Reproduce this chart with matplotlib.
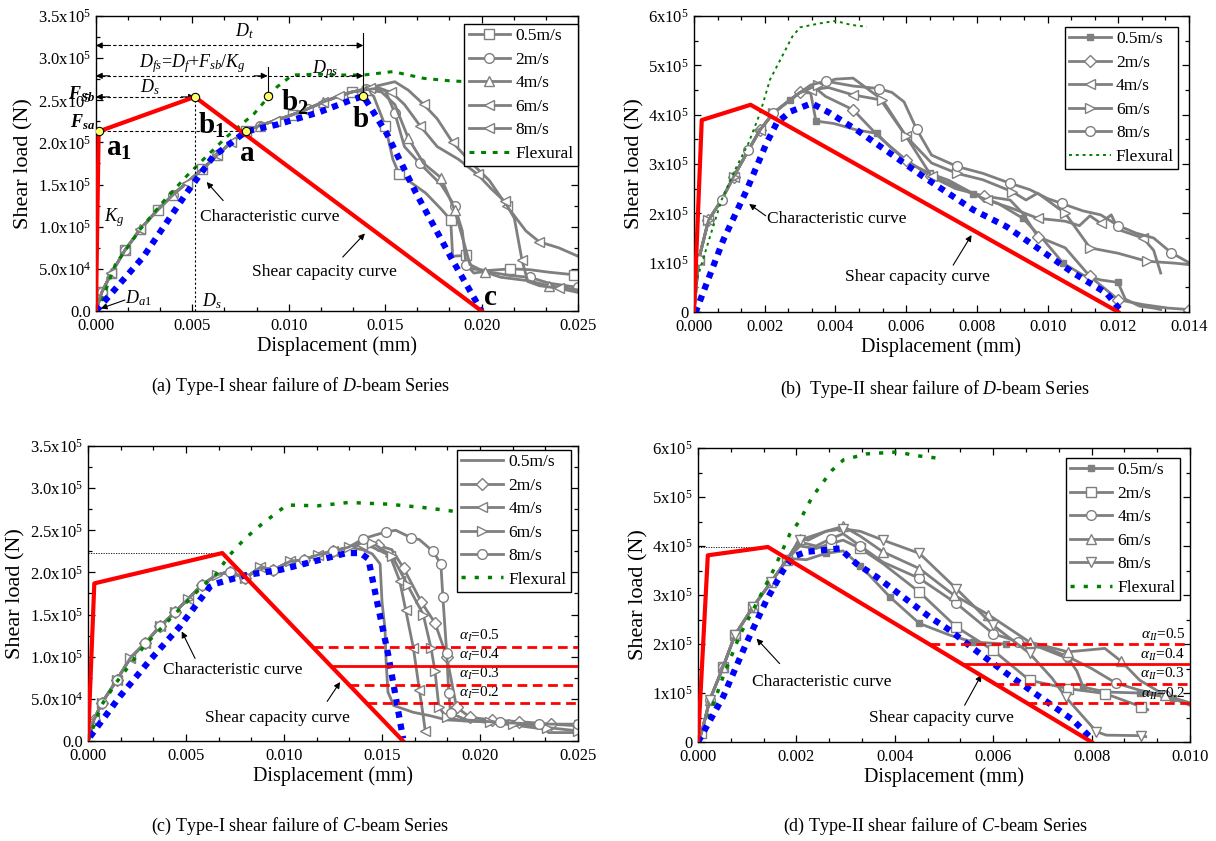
import numpy as np
import matplotlib
matplotlib.use('Agg')
import matplotlib.pyplot as plt
from matplotlib.ticker import AutoMinorLocator

plt.rcParams['font.family'] = ['Liberation Serif', 'DejaVu Serif']
plt.rcParams['mathtext.fontset'] = 'custom'
plt.rcParams['mathtext.rm'] = 'Liberation Serif'
plt.rcParams['mathtext.it'] = 'Liberation Serif:italic'
plt.rcParams['mathtext.bf'] = 'Liberation Serif:bold'
plt.rcParams['mathtext.bfit'] = 'Liberation Serif:bold:italic'

# displacement in 1e-3 mm, load in 1e5 N
XS = 1e-3
YS = 1e5

speeds = ['0.5m/s', '2m/s', '4m/s', '6m/s', '8m/s']

# ---------------- (a) Type-I, D-beam ----------------
rise_a_x = [0, 0.3, 0.8, 1.5, 2.3, 3.2, 4.0, 4.7, 5.5, 6.3, 7.0, 7.8, 8.5, 9.3, 10.2, 11.0, 11.8, 12.6, 13.3]
rise_a_y = [0, 0.22, 0.45, 0.72, 0.97, 1.20, 1.38, 1.52, 1.68, 1.85, 2.00, 2.14, 2.20, 2.26, 2.33, 2.40, 2.48, 2.55, 2.60]
tail_a_x = [
    [13.9, 14.4, 15.0, 15.4, 15.73, 16.3, 17.1, 17.9, 18.4, 18.5, 19.2, 19.5, 20.3, 21.5, 22.5, 23.5, 24.8, 25.0],
    [14.0, 14.5, 15.0, 15.5, 16.0, 16.8, 17.9, 18.6, 19.0, 19.2, 19.6, 20.2, 21.5, 22.5, 23.5, 25.0],
    [14.0, 14.8, 15.5, 16.2, 17.0, 17.9, 18.6, 19.1, 19.4, 20.2, 21.0, 22.4, 23.5, 25.0],
    [14.2, 15.5, 16.2, 17.0, 17.7, 18.5, 19.5, 20.4, 21.3, 22.3, 23.0, 24.0, 25.0],
    [14.5, 15.3, 16.0, 16.8, 17.7, 18.8, 19.8, 20.5, 21.2, 21.7, 22.1, 22.4, 23.0, 24.0, 25.0],
]
tail_a_y = [
    [2.62, 2.55, 2.20, 1.80, 1.62, 1.53, 1.40, 1.21, 1.08, 0.65, 0.66, 0.50, 0.48, 0.50, 0.49, 0.46, 0.43, 0.42],
    [2.63, 2.66, 2.62, 2.35, 1.95, 1.75, 1.50, 1.25, 0.95, 0.55, 0.45, 0.47, 0.42, 0.40, 0.33, 0.28],
    [2.62, 2.60, 2.45, 2.05, 1.75, 1.58, 1.20, 0.80, 0.55, 0.46, 0.40, 0.36, 0.30, 0.25],
    [2.65, 2.72, 2.62, 2.45, 2.28, 2.00, 1.75, 1.55, 1.25, 0.95, 0.82, 0.75, 0.65],
    [2.64, 2.60, 2.45, 2.20, 1.95, 1.80, 1.62, 1.45, 1.30, 1.10, 0.60, 0.35, 0.30, 0.27, 0.22],
]
marks_a = ['s', 'o', '^', '<', '<']
flex_a_x = [0, 0.2, 1.0, 2.3, 3.5, 4.7, 5.8, 6.8, 8.2, 9.4, 10.2, 11.5, 12.5, 13.9, 15.4, 17.0, 18.4, 19.3]
flex_a_y = [0, 0.06, 0.55, 0.97, 1.30, 1.60, 1.85, 2.07, 2.34, 2.66, 2.80, 2.81, 2.80, 2.80, 2.84, 2.76, 2.73, 2.72]
char_a_x = [0, 2.45, 4.7, 6.07, 7.78, 9.37, 11.6, 13.2, 13.87, 15.07, 16.6, 18.4, 20.0]
char_a_y = [0, 0.64, 1.40, 1.83, 2.13, 2.21, 2.36, 2.50, 2.55, 2.11, 1.40, 0.64, 0]
cap_a_x = [0, 0.14, 5.13, 20.0]
cap_a_y = [0, 2.13, 2.54, 0]
key_a_x = [0.14, 5.13, 7.78, 8.9, 13.87]
key_a_y = [2.13, 2.54, 2.13, 2.55, 2.55]

# ---------------- (b) Type-II, D-beam ----------------
rise_b_x = [0, 0.13, 0.41, 0.78, 1.12, 1.54, 1.87, 2.24, 2.72, 3.0]
rise_b_y = [0, 1.05, 1.86, 2.27, 2.74, 3.28, 3.69, 4.03, 4.30, 4.45]
tail_b_x = [
    [3.3, 3.45, 3.96, 4.6, 5.17, 5.54, 6.1, 6.67, 7.2, 7.9, 8.6, 9.3, 9.9, 10.44, 11.0, 11.5, 11.99, 12.2, 12.6, 13.0, 13.2],
    [3.5, 3.72, 4.5, 5.22, 6.0, 6.7, 7.4, 8.2, 8.94, 9.3, 9.72, 10.5, 11.2, 12.0, 12.7, 13.4, 14.0],
    [3.3, 3.8, 4.5, 5.28, 6.0, 6.72, 7.44, 8.28, 9.0, 9.72, 10.5, 10.9, 11.2, 11.5, 11.8, 12.0, 12.7, 13.0, 13.2],
    [3.5, 4.0, 4.5, 5.33, 6.0, 6.72, 7.44, 8.17, 9.0, 9.39, 9.72, 10.5, 10.8, 11.2, 12.0, 12.8, 13.6, 14.0],
    [3.3, 3.72, 4.5, 5.22, 5.6, 5.94, 6.3, 6.72, 7.44, 8.17, 8.94, 9.5, 10.0, 10.4, 11.0, 11.5, 12.0, 12.5, 13.0, 13.5, 14.0],
]
tail_b_y = [
    [4.44, 3.87, 3.82, 3.69, 3.62, 3.35, 3.01, 2.81, 2.67, 2.40, 2.20, 1.90, 1.45, 0.99, 0.75, 0.65, 0.60, 0.26, 0.12, 0.08, 0.05],
    [4.50, 4.37, 4.10, 3.56, 3.08, 2.75, 2.50, 2.35, 2.27, 2.00, 1.53, 1.30, 0.72, 0.25, 0.15, 0.08, 0.05],
    [4.50, 4.55, 4.40, 4.30, 3.56, 2.75, 2.54, 2.27, 2.10, 1.90, 1.84, 1.75, 1.95, 1.80, 1.97, 1.67, 1.50, 1.25, 0.79],
    [4.60, 4.72, 4.74, 4.30, 3.56, 3.02, 2.81, 2.68, 2.44, 2.27, 2.41, 2.00, 1.70, 1.30, 1.19, 1.03, 0.99, 0.96],
    [4.60, 4.68, 4.58, 4.53, 4.45, 4.26, 3.70, 3.18, 2.95, 2.81, 2.61, 2.48, 2.30, 2.20, 2.05, 1.97, 1.75, 1.60, 1.50, 1.20, 1.00],
]
marks_b = ['s', 'D', '<', '>', 'o']
flex_b_x = [0, 0.08, 0.45, 0.78, 1.16, 1.54, 1.87, 2.15, 2.44, 2.78, 3.0, 3.56, 4.0, 4.44, 4.89]
flex_b_y = [0, 0.65, 1.52, 2.27, 2.88, 3.42, 4.03, 4.71, 5.11, 5.58, 5.77, 5.85, 5.90, 5.82, 5.78]
char_b_x = [0, 0.075, 0.83, 1.49, 2.05, 2.34, 2.72, 3.33, 3.85, 4.6, 5.54, 6.49, 7.9, 8.84, 9.79, 10.73, 11.67, 12.1]
char_b_y = [0, 0.05, 1.46, 2.47, 3.42, 3.83, 4.06, 4.23, 4.03, 3.69, 3.22, 2.74, 2.07, 1.73, 1.26, 0.79, 0.38, 0]
cap_b_x = [0, 0.22, 1.60, 12.0]
cap_b_y = [0, 3.89, 4.20, 0]

# ---------------- (c) Type-I, C-beam ----------------
rise_c_x = [0, 0.3, 0.7, 1.46, 2.14, 2.91, 3.67, 4.44, 5.12, 5.8, 6.56, 7.24, 8.0, 8.78, 9.46, 10.3, 11.0, 11.75, 12.5, 13.3]
rise_c_y = [0, 0.25, 0.45, 0.72, 0.98, 1.16, 1.36, 1.53, 1.69, 1.85, 1.97, 2.01, 1.93, 2.06, 2.03, 2.13, 2.15, 2.21, 2.25, 2.30]
tail_c_x = [
    [14.0, 14.5, 14.9, 15.0, 15.15, 15.2, 15.3, 15.6, 16.6, 17.45, 18.3, 20.0, 21.7, 23.3, 23.5, 25.0],
    [14.0, 14.8, 15.5, 16.1, 17.0, 17.7, 18.3, 18.8, 19.5, 20.6, 22.0, 23.6, 25.0],
    [14.0, 14.5, 15.4, 15.9, 16.2, 16.6, 16.9, 17.1, 17.2],
    [14.0, 14.5, 15.5, 16.3, 17.1, 17.5, 17.7, 17.9, 18.3, 19.1, 20.5, 21.7, 23.4, 25.0],
    [14.05, 14.6, 15.2, 15.7, 16.5, 16.9, 17.6, 18.0, 18.1, 18.3, 18.4, 18.5, 19.3, 21.0, 23.0, 25.0],
]
tail_c_y = [
    [2.27, 2.22, 2.10, 1.64, 1.33, 0.97, 0.58, 0.42, 0.34, 0.30, 0.25, 0.23, 0.19, 0.14, 0.10, 0.10],
    [2.35, 2.32, 2.27, 2.05, 1.65, 1.40, 1.00, 0.40, 0.28, 0.25, 0.23, 0.20, 0.18],
    [2.33, 2.30, 2.20, 1.90, 1.56, 1.10, 0.61, 0.30, 0.12],
    [2.36, 2.35, 2.20, 1.85, 1.50, 1.10, 0.83, 0.40, 0.28, 0.24, 0.23, 0.20, 0.16, 0.12],
    [2.40, 2.44, 2.48, 2.50, 2.41, 2.39, 2.25, 2.10, 1.71, 1.04, 0.57, 0.33, 0.25, 0.22, 0.20, 0.20],
]
marks_c = [None, 'D', '<', '>', 'o']
flex_c_x = [0, 0.7, 1.46, 2.91, 4.44, 5.8, 6.5, 7.2, 8.0, 8.9, 10.14, 11.7, 13.3, 15.3, 17.1, 18.85]
flex_c_y = [0, 0.43, 0.70, 1.14, 1.51, 1.83, 1.97, 2.20, 2.40, 2.58, 2.80, 2.79, 2.83, 2.81, 2.77, 2.72]
char_c_x = [0.1, 1.63, 3.16, 4.69, 6.22, 6.56, 8.1, 9.8, 11.5, 13.2, 13.9, 14.3, 14.8, 15.3, 15.7, 16.07]
char_c_y = [0.05, 0.53, 0.96, 1.36, 1.83, 1.87, 1.97, 2.03, 2.13, 2.23, 2.23, 2.16, 1.59, 1.04, 0.52, 0.03]
cap_c_x = [0, 0.32, 6.85, 16.07]
cap_c_y = [0, 1.87, 2.23, 0]

# ---------------- (d) Type-II, C-beam ----------------
rise_d_x = [0, 0.07, 0.24, 0.51, 0.75, 1.12, 1.49, 1.80]
rise_d_y = [0, 0.18, 0.86, 1.53, 2.18, 2.76, 3.27, 3.71]
tail_d_x = [
    [1.93, 2.2, 2.6, 2.95, 3.3, 3.9, 4.5, 5.12, 5.59, 6.27, 6.95, 7.53, 7.7, 7.83, 8.3, 8.98, 9.66, 10.0],
    [2.07, 2.4, 2.7, 2.95, 3.3, 3.76, 4.5, 5.25, 6.0, 6.74, 7.52, 8.27, 9.01, 9.14],
    [2.07, 2.4, 2.7, 2.95, 3.3, 3.76, 4.5, 5.25, 6.0, 6.5, 7.0, 7.5, 8.0, 8.5, 9.0, 9.5, 10.0],
    [2.07, 2.24, 2.6, 2.95, 3.3, 3.76, 4.5, 5.2, 5.9, 6.74, 7.52, 8.27, 8.6, 8.98, 9.5, 10.0],
    [2.07, 2.6, 2.95, 3.3, 3.76, 4.5, 5.25, 6.0, 6.74, 7.2, 7.47, 8.1, 8.3, 9.0, 9.1],
]
tail_d_y = [
    [3.74, 3.72, 3.85, 3.90, 3.60, 2.96, 2.42, 2.18, 2.04, 2.00, 1.93, 1.70, 1.45, 1.12, 1.02, 1.00, 0.90, 0.78],
    [4.00, 3.95, 4.05, 4.12, 3.95, 3.64, 3.06, 2.35, 1.87, 1.26, 1.09, 0.99, 0.72, 0.66],
    [4.08, 4.00, 4.15, 4.25, 4.00, 3.67, 3.34, 2.83, 2.21, 2.05, 1.95, 1.75, 1.50, 1.20, 1.05, 0.95, 0.80],
    [4.15, 4.12, 4.30, 4.40, 4.20, 3.88, 3.54, 3.00, 2.60, 2.04, 1.84, 1.91, 1.65, 1.26, 0.95, 0.75],
    [4.12, 4.30, 4.35, 4.30, 4.12, 3.85, 3.13, 2.38, 1.81, 1.30, 0.92, 0.21, 0.14, 0.13, 0.11],
]
marks_d = ['s', 's', 'o', '^', 'v']
flex_d_x = [0, 0.1, 0.51, 0.85, 1.19, 1.53, 1.87, 2.07, 2.32, 2.72, 2.96, 3.43, 4.07, 4.39, 4.98]
flex_d_y = [0, 0.18, 1.33, 2.18, 2.83, 3.50, 4.25, 4.52, 5.00, 5.54, 5.76, 5.88, 5.92, 5.85, 5.78]
char_d_x = [0, 0.51, 0.98, 1.39, 1.73, 1.93, 2.2, 2.88, 3.22, 3.63, 4.17, 4.71, 5.12, 5.59, 6.27, 6.95, 7.62, 8.03]
char_d_y = [0, 0.92, 2.01, 2.89, 3.50, 3.78, 3.88, 3.95, 3.64, 3.37, 2.96, 2.55, 2.28, 1.91, 1.40, 0.92, 0.45, 0.04]
cap_d_x = [0, 0.2, 1.42, 8.0]
cap_d_y = [0, 3.81, 3.98, 0]

alphas = [0.5, 0.4, 0.3, 0.2]

yt_35 = [0, 0.5, 1.0, 1.5, 2.0, 2.5, 3.0, 3.5]
yl_35 = ['0.0', r'5.0x10$^4$', r'1.0x10$^5$', r'1.5x10$^5$', r'2.0x10$^5$',
         r'2.5x10$^5$', r'3.0x10$^5$', r'3.5x10$^5$']
yt_6 = [0, 1, 2, 3, 4, 5, 6]
yl_6 = ['0'] + [r'%dx10$^5$' % v for v in yt_6[1:]]

GREY = '#7f7f7f'
RED = '#ff0000'
BLUE = '#0000ff'
GREEN = '#008000'


def sx(v):
    return np.asarray(v, float) * XS


def sy(v):
    return np.asarray(v, float) * YS


def style(ax, xmax, xstep, yticks, ylabels, ymax):
    ax.set_xlim(0, xmax * XS)
    ax.set_ylim(0, ymax * YS)
    xt = np.arange(0, xmax + 1e-9, xstep)
    ax.set_xticks(xt * XS, ['%.3f' % (v * XS) for v in xt])
    ax.set_yticks(sy(yticks), ylabels)
    ax.xaxis.set_minor_locator(AutoMinorLocator(3))
    ax.yaxis.set_minor_locator(AutoMinorLocator(2))
    ax.tick_params(which='both', direction='in', top=True, right=True, labelsize=12, width=0.9)
    ax.tick_params(which='major', length=5)
    ax.tick_params(which='minor', length=3)
    ax.tick_params(axis='x', pad=5)
    for s in ax.spines.values():
        s.set_linewidth(1.0)
    ax.set_xlabel('Displacement (mm)', fontsize=14.5, labelpad=2)
    ax.set_ylabel('Shear load (N)', fontsize=16, labelpad=3)


def speed_lines(ax, rx, ry, tx, ty, marks, every, filled_first=False):
    for i in range(5):
        x = list(rx) + tx[i]
        y = list(ry) + ty[i]
        m = marks[i]
        if m is None:
            ax.plot(sx(x), sy(y), color=GREY, lw=2, label=speeds[i])
            continue
        filled = filled_first and i == 0
        ax.plot(sx(x), sy(y), color=GREY, lw=2, marker=m,
                ms=5 if filled else (6 if m == 'D' else 7),
                mfc=GREY if filled else 'white', mec=GREY, mew=1,
                markevery=(0.02 + 0.017 * i, every), label=speeds[i])


def legend(ax, anchor):
    lg = ax.legend(loc='upper right', bbox_to_anchor=anchor, fontsize=12.5,
                   frameon=True, fancybox=False, framealpha=1, edgecolor='k',
                   handlelength=2.4, handletextpad=0.3, labelspacing=0.42,
                   borderpad=0.25, borderaxespad=0)
    lg.get_frame().set_linewidth(1.0)


def arrow_text(ax, text, x, y, tail, head):
    ax.text(x * XS, y * YS, text, fontsize=12.5, va='center', ha='left')
    ax.annotate('', xy=(head[0] * XS, head[1] * YS), xytext=(tail[0] * XS, tail[1] * YS),
                arrowprops=dict(arrowstyle='-|>', color='k', lw=0.8, mutation_scale=9,
                                shrinkA=0, shrinkB=0))


def head(ax, x, y, dx):
    ax.annotate('', xy=(x * XS, y * YS), xytext=((x - dx) * XS, y * YS),
                arrowprops=dict(arrowstyle='-|>', color='k', lw=0.8, mutation_scale=9,
                                shrinkA=0, shrinkB=0))


def hdash(ax, x0, x1, y, lw=0.8):
    ax.plot(sx([x0, x1]), sy([y, y]), color='k', lw=lw, ls=(0, (3, 2)))


fig = plt.figure(figsize=(12.16, 8.41), dpi=100)
ax_a = fig.add_axes([0.0789, 0.6302, 0.3964, 0.3508])
ax_b = fig.add_axes([0.5707, 0.6290, 0.4071, 0.3520])
ax_c = fig.add_axes([0.0724, 0.1189, 0.4030, 0.3508])
ax_d = fig.add_axes([0.5740, 0.1177, 0.4046, 0.3496])

# ---------- panel (a) ----------
ax = ax_a
speed_lines(ax, rise_a_x, rise_a_y, tail_a_x, tail_a_y, marks_a, 0.1)
ax.plot(sx(flex_a_x), sy(flex_a_y), color=GREEN, lw=2.2, ls=(0, (1.6, 2.2)), label='Flexural')
ax.plot(sx(char_a_x), sy(char_a_y), color=BLUE, lw=4.5, ls=(0, (1, 1)), zorder=4)
ax.plot(sx(cap_a_x), sy(cap_a_y), color=RED, lw=3, zorder=5)
# construction lines
hdash(ax, 0, key_a_x[4], 3.15)
head(ax, 0, 3.15, -0.7)
head(ax, key_a_x[4], 3.15, 0.7)
hdash(ax, 0, key_a_x[3], 2.79)
head(ax, 0, 2.79, -0.7)
head(ax, key_a_x[3], 2.79, 0.7)
hdash(ax, key_a_x[3], key_a_x[4], 2.79)
head(ax, key_a_x[4], 2.79, 0.7)
hdash(ax, 0, key_a_x[1], key_a_y[1])
head(ax, 0, key_a_y[1], -0.7)
head(ax, key_a_x[1], key_a_y[1], 0.7)
hdash(ax, 0, key_a_x[2], key_a_y[2])
ax.plot(sx([key_a_x[1]] * 2), sy([0, key_a_y[1]]), color='k', lw=0.8, ls=(0, (2, 2)))
ax.plot(sx([key_a_x[4]] * 2), sy([key_a_y[4], 3.30]), color='k', lw=0.8)
ax.plot(sx([key_a_x[3]] * 2), sy([key_a_y[3], 2.90]), color='k', lw=0.8)
ax.plot(sx(key_a_x), sy(key_a_y), ls='none', marker='o', ms=6, mfc='#ffff66', mec='k', mew=0.8, zorder=8)
ax.text(7.7 * XS, 3.2 * YS, r'$D_t$', fontsize=13, ha='center', va='bottom')
ax.text(4.98 * XS, 2.94 * YS, r'$D_{fs}$=$D_f$+$F_{sb}$/$K_g$', fontsize=13, ha='center', va='center')
ax.text(11.9 * XS, 2.87 * YS, r'$D_{ps}$', fontsize=13, ha='center', va='center')
ax.text(2.8 * XS, 2.66 * YS, r'$D_s$', fontsize=13, ha='center', va='center')
ax.text(6.0 * XS, 0.12 * YS, r'$D_s$', fontsize=13, ha='center', va='center')
ax.text(0.4 * XS, 1.11 * YS, r'$K_g$', fontsize=13, ha='left', va='center')
ax.text(1.5 * XS, 0.15 * YS, r'$D_{a1}$', fontsize=13, ha='left', va='center')
ax.annotate('', xy=(0.25 * XS, 0.03 * YS), xytext=(1.5 * XS, 0.13 * YS),
            arrowprops=dict(arrowstyle='-|>', color='k', lw=0.8, mutation_scale=9, shrinkA=0, shrinkB=0))
ax.text(-0.05 * XS, 2.57 * YS, r'$\mathbfit{F_{Sb}}$', fontsize=13, ha='right', va='center', clip_on=False)
ax.text(-0.05 * XS, 2.12 * YS, r'$\mathbfit{F_{sa}}$', fontsize=13, ha='right', va='bottom', clip_on=False)
for lab, px, py in [(r'$\mathbf{a_1}$', 0.5, 1.92), (r'$\mathbf{b_1}$', 5.3, 2.2),
                    (r'$\mathbf{a}$', 7.4, 1.86), (r'$\mathbf{b_2}$', 9.6, 2.47),
                    (r'$\mathbf{b}$', 13.3, 2.27), (r'$\mathbf{c}$', 20.1, 0.16)]:
    ax.text(px * XS, py * YS, lab, fontsize=21, ha='left', va='center')
arrow_text(ax, 'Characteristic curve', 5.39, 1.11, (6.6, 1.31), (5.74, 1.53))
arrow_text(ax, 'Shear capacity curve', 8.09, 0.46, (12.8, 0.64), (13.95, 0.92))
style(ax, 25, 5, yt_35, yl_35, 3.5)
legend(ax, (1.0, 0.973))

# ---------- panel (b) ----------
ax = ax_b
speed_lines(ax, rise_b_x, rise_b_y, tail_b_x, tail_b_y, marks_b, 0.1, filled_first=True)
ax.plot(sx(flex_b_x), sy(flex_b_y), color=GREEN, lw=1.4, ls=(0, (1.5, 2)), label='Flexural')
ax.plot(sx(char_b_x), sy(char_b_y), color=BLUE, lw=4.5, ls=(0, (1, 1)), zorder=4)
ax.plot(sx(cap_b_x), sy(cap_b_y), color=RED, lw=3, zorder=5)
arrow_text(ax, 'Characteristic curve', 2.06, 1.89, (2.03, 1.95), (1.56, 2.19))
arrow_text(ax, 'Shear capacity curve', 4.27, 0.71, (7.33, 0.95), (7.85, 1.56))
style(ax, 14, 2, yt_6, yl_6, 6)
legend(ax, (0.9786, 0.963))

# ---------- panel (c) ----------
ax = ax_c
speed_lines(ax, rise_c_x, rise_c_y, tail_c_x, tail_c_y, marks_c, 0.05)
ax.plot(sx(flex_c_x), sy(flex_c_y), color=GREEN, lw=2.5, ls=(0, (1.2, 2.6)), label='Flexural')
ax.plot(sx(char_c_x), sy(char_c_y), color=BLUE, lw=4.5, ls=(0, (1, 1)), zorder=4)
ax.plot(sx(cap_c_x), sy(cap_c_y), color=RED, lw=3, zorder=5)
ax.plot(sx([0, cap_c_x[2]]), sy([cap_c_y[2]] * 2), color='k', lw=0.6, ls=(0, (1.5, 1.5)))
for a in alphas:
    ya = a * cap_c_y[2]
    xa = cap_c_x[2] + (1 - a) * (cap_c_x[3] - cap_c_x[2])
    ax.plot(sx([xa, 25]), sy([ya, ya]), color=RED, lw=2, ls='-' if a == 0.4 else (0, (3.5, 2)), zorder=6)
    ax.text(18.9 * XS, (ya + 0.13) * YS, r'$\alpha_I$=%.1f' % a, fontsize=11, ha='left', va='center')
arrow_text(ax, 'Characteristic curve', 3.84, 0.84, (5.46, 0.98), (4.78, 1.30))
arrow_text(ax, 'Shear capacity curve', 5.97, 0.27, (12.2, 0.47), (12.86, 0.70))
style(ax, 25, 5, yt_35, yl_35, 3.5)
legend(ax, (0.985, 0.987))

# ---------- panel (d) ----------
ax = ax_d
speed_lines(ax, rise_d_x, rise_d_y, tail_d_x, tail_d_y, marks_d, 0.08, filled_first=True)
ax.plot(sx(flex_d_x), sy(flex_d_y), color=GREEN, lw=2.5, ls=(0, (1.2, 2.6)), label='Flexural')
ax.plot(sx(char_d_x), sy(char_d_y), color=BLUE, lw=4.5, ls=(0, (1, 1)), zorder=4)
ax.plot(sx(cap_d_x), sy(cap_d_y), color=RED, lw=3, zorder=5)
ax.plot(sx([0, cap_d_x[2]]), sy([cap_d_y[2]] * 2), color='k', lw=0.6, ls=(0, (1.5, 1.5)))
for a in alphas:
    ya = a * cap_d_y[2]
    xa = cap_d_x[2] + (1 - a) * (cap_d_x[3] - cap_d_x[2])
    ax.plot(sx([xa, 10]), sy([ya, ya]), color=RED, lw=2, ls='-' if a == 0.4 else (0, (3.5, 2)), zorder=6)
    ax.text(9.9 * XS, (ya + 0.19) * YS, r'$\alpha_{II}$=%.1f' % a, fontsize=11, ha='right', va='center')
arrow_text(ax, 'Characteristic curve', 1.09, 1.22, (1.66, 1.60), (1.19, 2.11))
arrow_text(ax, 'Shear capacity curve', 3.48, 0.50, (5.42, 0.75), (5.76, 1.37))
style(ax, 10, 2, yt_6, yl_6, 6)
legend(ax, (0.979, 0.966))

# captions
fig.text(0.247, 0.541, r'(a) Type-I shear failure of $D$-beam Series', ha='center', va='center', fontsize=13)
fig.text(0.769, 0.537, r'(b)  Type-II shear failure of $D$-beam Series', ha='center', va='center', fontsize=13)
fig.text(0.247, 0.017, r'(c) Type-I shear failure of $C$-beam Series', ha='center', va='center', fontsize=13)
fig.text(0.769, 0.017, r'(d) Type-II shear failure of $C$-beam Series', ha='center', va='center', fontsize=13)

fig.savefig('out.png', dpi=100)
